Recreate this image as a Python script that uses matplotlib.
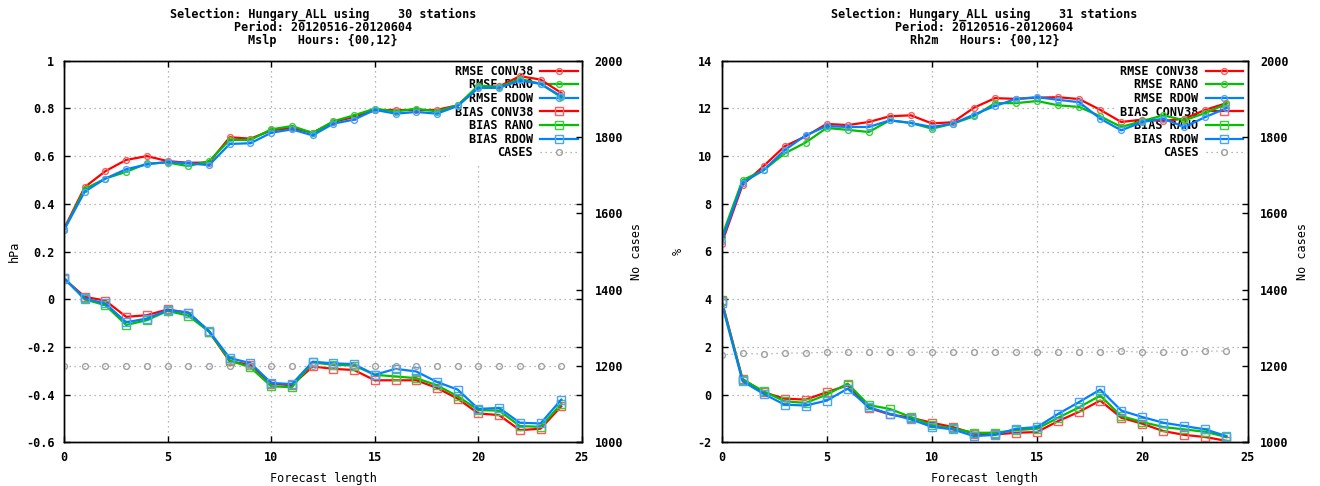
import matplotlib
matplotlib.use('Agg')
import matplotlib.pyplot as plt
from matplotlib.ticker import FuncFormatter, MultipleLocator

plt.rcParams['font.family'] = ['DejaVu Sans Mono', 'DejaVu Sans']
plt.rcParams['font.weight'] = 'bold'
plt.rcParams['font.size'] = 8.5
plt.rcParams['axes.unicode_minus'] = False

hours = list(range(25))

# ---- Left panel: Mslp ----
mslp_rmse_conv38 = [0.295, 0.470, 0.537, 0.584, 0.600, 0.579, 0.572, 0.573, 0.679, 0.673, 0.708, 0.718, 0.698,
                    0.743, 0.764, 0.792, 0.794, 0.792, 0.794, 0.813, 0.889, 0.892, 0.935, 0.921, 0.865]
mslp_rmse_rano = [0.290, 0.462, 0.506, 0.534, 0.569, 0.573, 0.558, 0.579, 0.668, 0.668, 0.712, 0.726, 0.697,
                  0.746, 0.771, 0.799, 0.787, 0.799, 0.787, 0.813, 0.896, 0.889, 0.924, 0.903, 0.847]
mslp_rmse_rdow = [0.290, 0.451, 0.506, 0.545, 0.565, 0.576, 0.570, 0.562, 0.651, 0.654, 0.698, 0.712, 0.687,
                  0.736, 0.753, 0.794, 0.778, 0.785, 0.778, 0.810, 0.886, 0.886, 0.917, 0.903, 0.851]
mslp_bias_conv38 = [0.086, 0.010, -0.006, -0.074, -0.067, -0.043, -0.057, -0.136, -0.261, -0.275, -0.354, -0.361,
                    -0.282, -0.292, -0.297, -0.340, -0.340, -0.340, -0.372, -0.417, -0.479, -0.486, -0.549, -0.543,
                    -0.449]
mslp_bias_rano = [0.090, -0.001, -0.025, -0.108, -0.088, -0.049, -0.069, -0.136, -0.257, -0.286, -0.365, -0.369,
                  -0.265, -0.275, -0.278, -0.317, -0.324, -0.331, -0.361, -0.407, -0.465, -0.467, -0.532, -0.535,
                  -0.439]
mslp_bias_rdow = [0.087, 0.003, -0.018, -0.097, -0.081, -0.046, -0.056, -0.133, -0.247, -0.268, -0.351, -0.356,
                  -0.262, -0.269, -0.272, -0.317, -0.292, -0.303, -0.347, -0.379, -0.460, -0.456, -0.518, -0.521,
                  -0.421]
mslp_cases = [1199, 1199, 1199, 1199, 1199, 1199, 1199, 1199, 1199, 1199, 1199, 1199, 1199,
              1199, 1199, 1199, 1199, 1199, 1199, 1199, 1199, 1199, 1199, 1199, 1199]

# ---- Right panel: Rh2m ----
rh_rmse_conv38 = [6.31, 8.79, 9.58, 10.41, 10.83, 11.35, 11.30, 11.43, 11.67, 11.71, 11.37, 11.42, 12.03,
                  12.43, 12.40, 12.45, 12.47, 12.39, 11.94, 11.43, 11.53, 11.47, 11.57, 11.94, 12.22]
rh_rmse_rano = [6.59, 8.99, 9.41, 10.11, 10.57, 11.18, 11.10, 11.01, 11.50, 11.39, 11.15, 11.36, 11.67,
                12.22, 12.22, 12.31, 12.13, 12.06, 11.67, 11.22, 11.47, 11.71, 11.50, 11.81, 12.19]
rh_rmse_rdow = [6.42, 8.88, 9.41, 10.25, 10.87, 11.26, 11.22, 11.22, 11.50, 11.39, 11.22, 11.36, 11.74,
                12.10, 12.40, 12.47, 12.36, 12.26, 11.57, 11.08, 11.43, 11.57, 11.22, 11.64, 12.01]
rh_bias_conv38 = [3.98, 0.65, 0.10, -0.17, -0.21, 0.10, 0.39, -0.56, -0.83, -0.97, -1.18, -1.36, -1.64,
                  -1.67, -1.60, -1.57, -1.11, -0.72, -0.25, -0.97, -1.22, -1.53, -1.69, -1.78, -1.94]
rh_bias_rano = [3.92, 0.63, 0.14, -0.28, -0.35, 0.00, 0.46, -0.44, -0.60, -0.94, -1.28, -1.42, -1.60,
                -1.60, -1.49, -1.43, -0.97, -0.53, -0.04, -0.90, -1.15, -1.36, -1.46, -1.56, -1.78]
rh_bias_rdow = [3.86, 0.56, 0.03, -0.42, -0.46, -0.25, 0.25, -0.53, -0.81, -1.04, -1.35, -1.46, -1.74,
                -1.69, -1.43, -1.36, -0.81, -0.31, 0.21, -0.67, -0.94, -1.18, -1.32, -1.46, -1.74]
rh_cases = [1229, 1233, 1231, 1234, 1234, 1236, 1236, 1236, 1236, 1236, 1236, 1236, 1236,
            1236, 1236, 1236, 1236, 1236, 1236, 1239, 1236, 1236, 1236, 1239, 1239]

exp_names = ['CONV38', 'RANO', 'RDOW']
line_colors = ['#ff0000', '#00c000', '#0080ff']
marker_colors = ['#ff5a5a', '#3ccc3c', '#4aa4ff']
grid_gray = '#a0a0a0'


def fmt(v, pos):
    return '%g' % round(v, 6)


def draw_panel(fig, rect, title, ylabel, ylim, ystep, rmse, bias, cases, ylab_x, y2lab_x):
    ax = fig.add_axes(rect)
    ax2 = ax.twinx()
    handles = []
    for name, vals, lc, mc in zip(exp_names, rmse, line_colors, marker_colors):
        h, = ax.plot(hours, vals, color=lc, lw=1.6, marker='o', ms=4.2, mfc='none', mec=mc, mew=1.0,
                     zorder=3, label='RMSE ' + name)
        handles.append(h)
    for name, vals, lc, mc in zip(exp_names, bias, line_colors, marker_colors):
        h, = ax.plot(hours, vals, color=lc, lw=1.6, marker='s', ms=5.5, mfc='none', mec=mc, mew=1.0,
                     zorder=3, label='BIAS ' + name)
        handles.append(h)
    hc, = ax2.plot(hours, cases, color=grid_gray, lw=0.9, ls=(0, (1, 3)), marker='o', ms=4.2,
                   mfc='none', mec=grid_gray, mew=1.0, label='CASES')
    handles.append(hc)

    ax.set_xlim(0, 25)
    ax.set_ylim(*ylim)
    ax2.set_ylim(1000, 2000)
    ax.xaxis.set_major_locator(MultipleLocator(5))
    ax.yaxis.set_major_locator(MultipleLocator(ystep))
    ax2.yaxis.set_major_locator(MultipleLocator(200))
    ax.xaxis.set_major_formatter(FuncFormatter(fmt))
    ax.yaxis.set_major_formatter(FuncFormatter(fmt))
    ax2.yaxis.set_major_formatter(FuncFormatter(fmt))

    ax.set_axisbelow(True)
    ax.grid(True, color=grid_gray, lw=0.9, ls=(0, (1, 3)))
    ax.tick_params(direction='in', length=4, width=1, top=True, right=True, labelright=False,
                   labelsize=8.5, pad=6)
    ax.tick_params(axis='y', pad=7)
    ax2.tick_params(direction='in', length=4, width=1, labelsize=8.5, pad=9)
    for sp in list(ax.spines.values()) + list(ax2.spines.values()):
        sp.set_linewidth(1.0)

    ax.set_xlabel('Forecast length', labelpad=6)
    ax.set_ylabel(ylabel)
    ax2.set_ylabel('No cases')
    ax.yaxis.set_label_coords(ylab_x, 0.5)
    ax2.yaxis.set_label_coords(y2lab_x, 0.5)
    ax.yaxis.label.set_va('center')
    ax2.yaxis.label.set_va('center')

    leg = ax.legend(handles=handles, loc='upper right', bbox_to_anchor=(1.0, 1.0), markerfirst=False,
                    frameon=True, facecolor='white', edgecolor='white', framealpha=1.0, fancybox=False,
                    borderaxespad=0.0, borderpad=0.35, labelspacing=0.05, handlelength=3.2,
                    handletextpad=0.6, numpoints=1, fontsize=8.5)
    leg.set_zorder(1.5)

    cx = rect[0] + rect[2] / 2
    fig.text(cx, 1 - 7.5 / 486, title, ha='center', va='top', linespacing=1.0, fontsize=8.5)
    return ax, ax2


fig = plt.figure(figsize=(13.2, 4.86), dpi=100)
fig.patch.set_facecolor('white')

bottom = 1 - 442.3 / 486
height = (442.3 - 60.7) / 486

draw_panel(fig, [64 / 1320, bottom, 518 / 1320, height],
           'Selection: Hungary_ALL using    30 stations\nPeriod: 20120516-20120604\nMslp   Hours: {00,12}',
           'hPa', (-0.6, 1.0), 0.2,
           [mslp_rmse_conv38, mslp_rmse_rano, mslp_rmse_rdow],
           [mslp_bias_conv38, mslp_bias_rano, mslp_bias_rdow],
           mslp_cases, -0.0965, 1.106)

draw_panel(fig, [721.5 / 1320, bottom, 526 / 1320, height],
           'Selection: Hungary_ALL using    31 stations\nPeriod: 20120516-20120604\nRh2m   Hours: {00,12}',
           '%', (-2, 14), 2,
           [rh_rmse_conv38, rh_rmse_rano, rh_rmse_rdow],
           [rh_bias_conv38, rh_bias_rano, rh_bias_rdow],
           rh_cases, -0.083, 1.105)

fig.savefig('out.png', dpi=100, facecolor='white')
